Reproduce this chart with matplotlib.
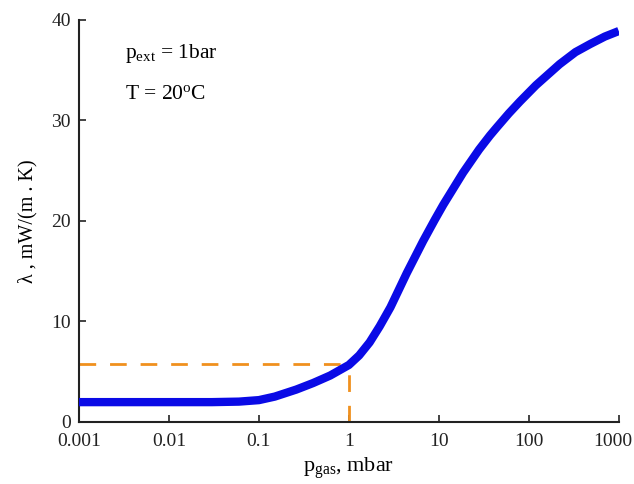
import matplotlib
matplotlib.use('Agg')
import matplotlib.pyplot as plt
import matplotlib.transforms as mtransforms

# Data
p_gas = [0.001, 0.01, 0.03, 0.06, 0.1, 0.15, 0.26, 0.4, 0.62, 1.0, 1.3, 1.7, 2.2, 2.9,
         4.4, 6.7, 9.0, 11.2, 18.6, 28, 37, 44, 60, 80, 120, 220, 330, 480, 700, 1000]
lam = [1.95, 1.95, 1.95, 2.0, 2.15, 2.5, 3.2, 3.85, 4.6, 5.65, 6.6, 7.9, 9.5, 11.4,
       14.8, 18.0, 20.1, 21.6, 24.8, 27.1, 28.5, 29.3, 30.7, 31.9, 33.5, 35.6, 36.8, 37.6, 38.35, 38.9]

p_mark = 1.0
lam_mark = 5.75

xticks = [0.001, 0.01, 0.1, 1, 10, 100, 1000]
xticklabels = ['0.001', '0.01', '0.1', '1', '10', '100', '1000']
yticks = [0, 10, 20, 30, 40]

plt.rcParams['font.family'] = ['Liberation Serif', 'DejaVu Serif']
plt.rcParams['mathtext.fontset'] = 'custom'
plt.rcParams['mathtext.rm'] = 'Liberation Serif'
plt.rcParams['mathtext.it'] = 'Liberation Serif:italic'

fig = plt.figure(figsize=(6.34, 4.84), dpi=100)
ax = fig.add_axes([0.1246, 0.1287, 0.8514, 0.83])

ax.plot(p_gas, lam, color='#0a0ae6', linewidth=6, solid_capstyle='butt',
        solid_joinstyle='round', zorder=3)
ax.plot([0.001, p_mark], [lam_mark, lam_mark], color='#f0901e', linewidth=2, dashes=(6, 5), zorder=2)
ax.plot([p_mark, p_mark], [0, lam_mark], color='#f0901e', linewidth=2, dashes=(6, 5), zorder=2)

ax.set_xscale('log')
ax.set_xlim(0.001, 1000)
ax.set_ylim(0, 40)
ax.set_xticks(xticks)
ax.set_xticklabels(xticklabels)
ax.set_yticks(yticks)
ax.minorticks_off()
ax.tick_params(direction='in', length=5, width=1.2, labelsize=14, colors='#222222')
ax.tick_params(axis='x', pad=8)
ax.tick_params(axis='y', pad=6)

# keep the last x label inside the figure
last = ax.get_xticklabels()[-1]
last.set_transform(last.get_transform() + mtransforms.ScaledTranslation(-6 / 100, 0, fig.dpi_scale_trans))

for s in ['top', 'right']:
    ax.spines[s].set_visible(False)
for s in ['left', 'bottom']:
    ax.spines[s].set_linewidth(1.5)
    ax.spines[s].set_color('#222222')

ax.set_xlabel(r'p$_\mathrm{gas}$, mbar', fontsize=16, labelpad=4)
ax.set_ylabel('λ , mW/(m . K)', fontsize=14.5, labelpad=10)

ax.text(0.085, 0.905, r'p$_\mathrm{ext}$ = 1bar', transform=ax.transAxes, fontsize=15.5, va='baseline')
ax.text(0.085, 0.803, r'T = 20$^\mathrm{o}$C', transform=ax.transAxes, fontsize=15.5, va='baseline')

plt.savefig('out.png', dpi=100)
plt.close()
